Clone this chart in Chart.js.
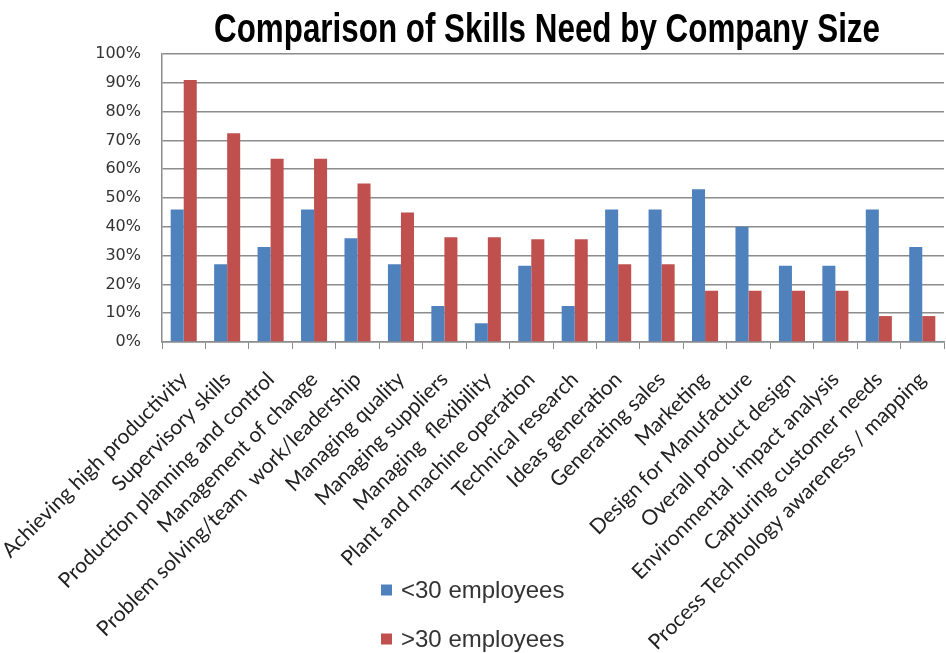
<!DOCTYPE html>
<html>
<head>
<meta charset="utf-8">
<title>Comparison of Skills Need by Company Size</title>
<script src="https://cdn.jsdelivr.net/npm/chart.js@4.4.1/dist/chart.umd.min.js"></script>
<style>
    body { margin: 0; background: #fff; }
    #wrap { width: 946px; height: 653px; }
</style>
</head>
<body>
<div id="wrap"><canvas id="skillsChart" width="946" height="653"></canvas></div>
<script>

var chartTitle = 'Comparison of Skills Need by Company Size';

var skills = [
    'Achieving high productivity',
    'Supervisory skills',
    'Production planning and control',
    'Management of change',
    'Problem solving/team  work/leadership',
    'Managing quality',
    'Managing suppliers',
    'Managing  flexibility',
    'Plant and machine operation',
    'Technical research',
    'Ideas generation',
    'Generating sales',
    'Marketing',
    'Design for Manufacture',
    'Overall product design',
    'Environmental  impact analysis',
    'Capturing customer needs',
    'Process Technology awareness / mapping'
];

var seriesNames = ['<30 employees', '>30 employees'];
var seriesColors = ['#4f81bd', '#c0504d'];

// percent of firms
var smallFirms = [46, 27, 33, 46, 36, 27, 12.5, 6.5, 26.5, 12.5, 46, 46, 53, 40, 26.5, 26.5, 46, 33];
var largeFirms = [91, 72.5, 63.6, 63.6, 55, 45, 36.4, 36.4, 35.7, 35.7, 27, 27, 17.8, 17.8, 17.8, 17.8, 9, 9];

var yTicks = [0, 10, 20, 30, 40, 50, 60, 70, 80, 90, 100];

// title centred over the plot and a stacked legend under it
var overlayPlugin = {
    id: 'overlay',
    afterDraw: function (chart) {
        var ctx = chart.ctx;
        var area = chart.chartArea;
        ctx.save();

        ctx.fillStyle = '#000';
        ctx.font = 'bold 40px "Liberation Sans", Arial, sans-serif';
        ctx.textAlign = 'center';
        ctx.textBaseline = 'alphabetic';
        ctx.fillText(chartTitle, (area.left + area.right) / 2 - 6, 42, 666);

        ctx.font = '24px "Liberation Sans", Arial, sans-serif';
        ctx.textAlign = 'left';
        ctx.textBaseline = 'middle';
        chart.data.datasets.forEach(function (ds, i) {
            var y = 590 + i * 49;
            ctx.fillStyle = ds.backgroundColor;
            ctx.fillRect(381, y - 5.5, 11, 11);
            ctx.fillStyle = '#333';
            ctx.fillText(ds.label, 401, y + 1);
        });
        ctx.restore();
    }
};

function drawChart() {
    var ctx = document.getElementById('skillsChart').getContext('2d');

    new Chart(ctx, {
        type: 'bar',
        data: {
            labels: skills,
            datasets: [{
                label: seriesNames[0],
                data: smallFirms,
                backgroundColor: seriesColors[0]
            }, {
                label: seriesNames[1],
                data: largeFirms,
                backgroundColor: seriesColors[1]
            }]
        },
        options: {
            responsive: false,
            animation: false,
            categoryPercentage: 0.6,
            barPercentage: 1,
            layout: {
                padding: { top: 54, left: 0, right: 0, bottom: 0 }
            },
            plugins: {
                legend: { display: false },
                title: { display: false },
                tooltip: { enabled: false }
            },
            scales: {
                x: {
                    grid: {
                        drawOnChartArea: false,
                        color: '#8c8c8c',
                        tickLength: 7,
                        offset: true
                    },
                    border: { color: '#8c8c8c', width: 1.5 },
                    ticks: {
                        autoSkip: false,
                        minRotation: 45,
                        maxRotation: 45,
                        padding: 18,
                        color: '#222',
                        font: { family: 'Lato, "Open Sans", sans-serif', size: 21 }
                    },
                    afterFit: function (scale) {
                        // the long rotated labels may hang outside the plot, like in the original
                        scale.height = 311;
                        scale.paddingLeft = 0;
                        scale.paddingRight = 2;
                    }
                },
                y: {
                    min: 0,
                    max: 100,
                    afterBuildTicks: function (scale) {
                        scale.ticks = yTicks.map(function (v) { return { value: v }; });
                    },
                    grid: {
                        drawTicks: false,
                        color: '#8c8c8c',
                        lineWidth: 1.5
                    },
                    border: { color: '#8c8c8c', width: 1.5 },
                    ticks: {
                        padding: 21,
                        color: '#333',
                        font: { family: '"DejaVu Sans", sans-serif', size: 16 },
                        callback: function (v) { return v + '%'; }
                    },
                    afterFit: function (scale) { scale.width = 162; }
                }
            }
        },
        plugins: [overlayPlugin]
    });
}

document.addEventListener('DOMContentLoaded', drawChart);
</script>
</body>
</html>
